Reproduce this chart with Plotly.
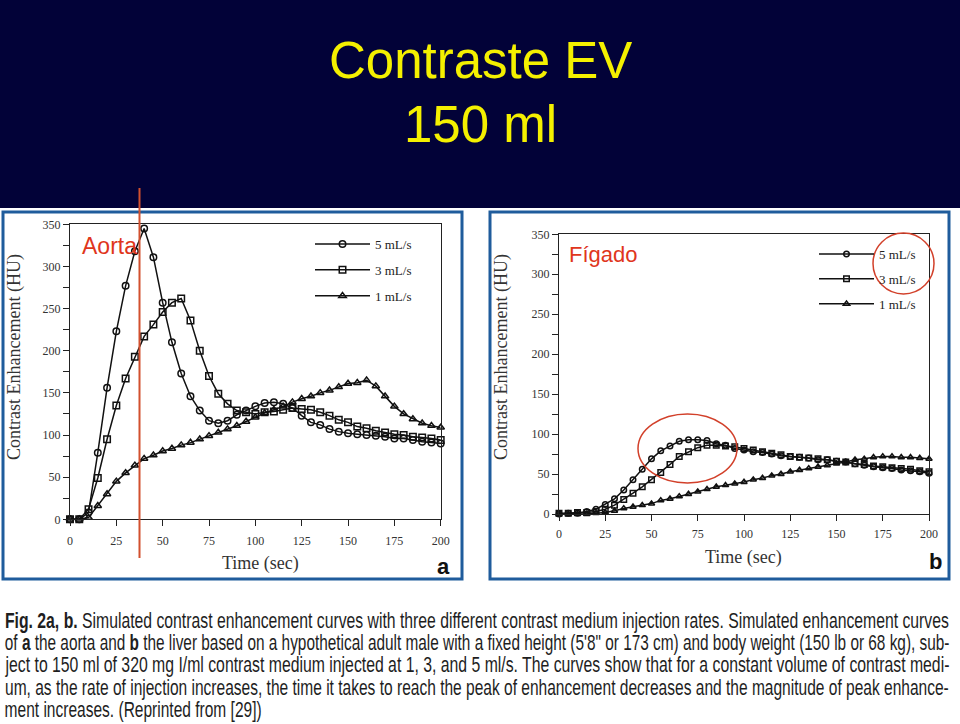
import plotly.graph_objects as go

W, H = 960, 724

# ---------------- data ----------------
time_s = list(range(0, 205, 5))

aorta_5 = [0, 0, 8, 79, 156, 223, 277, 318, 345, 311, 257, 210, 173, 146, 129, 117, 114, 117, 124, 129,
           134, 138, 139, 137, 132, 123, 115, 112, 107, 104, 102, 101, 100, 99, 98, 96, 96, 94, 92, 91, 90]
aorta_3 = [0, 0, 12, 49, 95, 135, 167, 193, 217, 231, 246, 257, 262, 236, 200, 170, 149, 137, 129, 127,
           125, 127, 128, 130, 132, 131, 130, 127, 123, 118, 115, 110, 108, 105, 103, 101, 100, 98, 97, 96, 94]
aorta_1 = [0, 0, 2, 16, 30, 45, 55, 64, 72, 76, 81, 84, 88, 91, 95, 99, 103, 107, 111, 116,
           121, 126, 130, 134, 139, 143, 146, 150, 153, 157, 161, 162, 165, 158, 146, 134, 125, 119, 114, 111, 109]

liver_5 = [0, 1, 1, 3, 6, 12, 19, 30, 43, 56, 69, 79, 85, 91, 93, 93, 92, 88, 86, 82,
           80, 78, 77, 75, 73, 72, 71, 70, 68, 68, 66, 65, 63, 61, 59, 58, 57, 55, 54, 53, 51]
liver_3 = [1, 1, 2, 2, 3, 6, 11, 18, 26, 34, 43, 52, 62, 72, 78, 83, 86, 86, 85, 84,
           82, 80, 78, 76, 74, 72, 71, 70, 69, 68, 66, 65, 63, 62, 60, 59, 58, 57, 56, 54, 53]
liver_1 = [0, 0, 0, 0, 1, 2, 4, 7, 9, 11, 13, 17, 19, 22, 25, 28, 31, 34, 36, 38,
           40, 43, 45, 48, 50, 53, 55, 57, 59, 61, 63, 65, 68, 69, 71, 72, 72, 71, 71, 70, 69]

series_names = ["5 mL/s", "3 mL/s", "1 mL/s"]
liver_names = ["5 mL/s", "3 mL/s", "1 mL/s"]
symbols = ["circle-open", "square-open", "triangle-up-open"]

x_ticks = [0, 25, 50, 75, 100, 125, 150, 175, 200]
y_ticks = [0, 50, 100, 150, 200, 250, 300, 350]

title_lines = ["Contraste EV", "150 ml"]
caption_lines = [
    "<b>Fig. 2a, b.</b> Simulated contrast enhancement curves with three different contrast medium injection rates. Simulated enhancement curves",
    "of <b>a</b> the aorta and <b>b</b> the liver based on a hypothetical adult male with a fixed height (5'8\" or 173 cm) and body weight (150 lb or 68 kg), sub-",
    "ject to 150 ml of 320 mg I/ml contrast medium injected at 1, 3, and 5 ml/s. The curves show that for a constant volume of contrast medi-",
    "um, as the rate of injection increases, the time it takes to reach the peak of enhancement decreases and the magnitude of peak enhance-",
    "ment increases. (Reprinted from [29])",
]

# ---------------- helpers ----------------
def px(x):
    return x / W

def py(y):
    return 1 - y / H

SERIF = "Liberation Serif, Times New Roman, serif"
SANS = "Liberation Sans, Arial, sans-serif"

fig = go.Figure()

for vals, name, sym in zip([aorta_5, aorta_3, aorta_1], series_names, symbols):
    fig.add_trace(go.Scatter(
        x=time_s, y=vals, name=name, mode="lines+markers",
        line=dict(color="#111", width=1.5),
        marker=dict(symbol=sym, size=6.5, color="#111", line=dict(width=1.5)),
        cliponaxis=False, xaxis="x", yaxis="y", legend="legend",
        legendgroup="a" + name,
    ))

for vals, name, sym in zip([liver_5, liver_3, liver_1], liver_names, symbols):
    fig.add_trace(go.Scatter(
        x=time_s, y=vals, name=name, mode="lines+markers",
        line=dict(color="#111", width=1.5),
        marker=dict(symbol=sym, size=5.5, color="#111", line=dict(width=1.5)),
        cliponaxis=False, xaxis="x2", yaxis="y2", legend="legend2",
        legendgroup="b" + name,
    ))

axis_common = dict(
    showline=True, linecolor="#222", linewidth=1, mirror=True,
    ticks="outside", ticklen=6, tickcolor="#222", tickwidth=1,
    showgrid=False, zeroline=False, automargin=False,
    tickfont=dict(family=SERIF, size=12, color="#333"),
)

fig.update_layout(
    width=W, height=H, autosize=False,
    margin=dict(l=0, r=0, t=0, b=0, pad=0, autoexpand=False),
    paper_bgcolor="white", plot_bgcolor="rgba(0,0,0,0)",
    xaxis=dict(domain=[px(70), px(440.7)], range=[0, 200], tickvals=x_ticks, anchor="y",
               ticklabelstandoff=4, **axis_common),
    yaxis=dict(domain=[py(519.3), py(224.3)], range=[0, 350], tickvals=y_ticks, anchor="x",
               minor=dict(dtick=25, ticks="outside", ticklen=6, tickcolor="#222"), **axis_common),
    xaxis2=dict(domain=[px(559), px(929)], range=[0, 200], tickvals=x_ticks, anchor="y2",
                ticklabelstandoff=3, **axis_common),
    yaxis2=dict(domain=[py(514), py(234.3)], range=[0, 350], tickvals=y_ticks, anchor="x2",
                minor=dict(dtick=25, ticks="outside", ticklen=6, tickcolor="#222"), **axis_common),
    legend=dict(x=px(310), y=py(229), xanchor="left", yanchor="top", itemwidth=55,
                bgcolor="rgba(0,0,0,0)", font=dict(family=SERIF, size=13, color="#222"),
                tracegroupgap=6),
    legend2=dict(x=px(814), y=py(239), xanchor="left", yanchor="top", itemwidth=55,
                 bgcolor="rgba(0,0,0,0)", font=dict(family=SERIF, size=13, color="#222"),
                 tracegroupgap=5),
    showlegend=True,
)

shapes = [
    # header band
    dict(type="rect", xref="paper", yref="paper", x0=0, x1=1, y0=py(208), y1=1,
         fillcolor="#020238", line=dict(width=0), layer="below"),
    # panel frames
    dict(type="rect", xref="paper", yref="paper", x0=px(3), x1=px(462), y0=py(579), y1=py(212),
         fillcolor="white", line=dict(color="#1f5c9c", width=3), layer="below"),
    dict(type="rect", xref="paper", yref="paper", x0=px(490), x1=px(949), y0=py(579), y1=py(212),
         fillcolor="white", line=dict(color="#1f5c9c", width=3), layer="below"),
    # red annotations
    dict(type="line", xref="paper", yref="paper", x0=px(139.5), x1=px(139.5), y0=py(188), y1=py(558),
         line=dict(color="#d2502e", width=2), layer="above"),
    dict(type="circle", xref="paper", yref="paper", x0=px(638), x1=px(737), y0=py(483), y1=py(414),
         line=dict(color="#d2402a", width=1.5), layer="above"),
    dict(type="circle", xref="paper", yref="paper", x0=px(873), x1=px(934), y0=py(294), y1=py(233),
         line=dict(color="#d2402a", width=1.5), layer="above"),
]
fig.update_layout(shapes=shapes)

ann = []
# title
ann.append(dict(text=title_lines[0], x=0.5, y=py(61), xref="paper", yref="paper", showarrow=False,
                xanchor="center", yanchor="middle", font=dict(family=SANS, size=51, color="#f4f000")))
ann.append(dict(text=title_lines[1], x=0.5, y=py(124), xref="paper", yref="paper", showarrow=False,
                xanchor="center", yanchor="middle", font=dict(family=SANS, size=51, color="#f4f000")))
# axis titles
for xc, yc in [(14, 357), (501, 357)]:
    ann.append(dict(text="Contrast Enhancement (HU)", x=px(xc), y=py(yc), xref="paper", yref="paper",
                    showarrow=False, textangle=-90, xanchor="center", yanchor="middle",
                    font=dict(family=SERIF, size=18, color="#333")))
for xc, yc in [(260, 563), (743, 557)]:
    ann.append(dict(text="Time (sec)", x=px(xc), y=py(yc), xref="paper", yref="paper",
                    showarrow=False, xanchor="center", yanchor="middle",
                    font=dict(family=SERIF, size=18, color="#333")))
# panel letters
ann.append(dict(text="<b>a</b>", x=px(443), y=py(566), xref="paper", yref="paper", showarrow=False,
                xanchor="center", yanchor="middle", font=dict(family=SANS, size=22, color="#111")))
ann.append(dict(text="<b>b</b>", x=px(935), y=py(561), xref="paper", yref="paper", showarrow=False,
                xanchor="center", yanchor="middle", font=dict(family=SANS, size=22, color="#111")))
# red labels
ann.append(dict(text="Aorta", x=px(80), y=py(246), xref="paper", yref="paper", showarrow=False,
                xanchor="left", yanchor="middle", font=dict(family=SANS, size=23, color="#e0361c")))
ann.append(dict(text="Fígado", x=px(567), y=py(254), xref="paper", yref="paper", showarrow=False,
                xanchor="left", yanchor="middle", font=dict(family=SANS, size=22, color="#e0361c")))
# caption
cap_start = len(ann)
cap_centers = [620, 642, 664, 687, 709]
for line, yc in zip(caption_lines, cap_centers):
    ann.append(dict(text=line, x=px(3), y=py(yc), xref="paper", yref="paper", showarrow=False,
                    xanchor="left", yanchor="middle", font=dict(family=SANS, size=22, color="#1e1e1e")))

fig.update_layout(annotations=ann)

# caption lines are set in a condensed face in the reference: compress them horizontally
cap_widths = [947, 947, 947, 947, 259]
post_js = """
document.documentElement.style.margin = '0';
document.documentElement.style.padding = '0';
document.documentElement.style.overflow = 'hidden';
document.body.style.margin = '0';
document.body.style.padding = '0';
document.body.style.overflow = 'hidden';
var gd = document.getElementById('{plot_id}');
var start = %d;
var targets = %s;
for (var i = 0; i < targets.length; i++) {
  var g = gd.querySelector('g.annotation[data-index="' + (start + i) + '"]');
  if (!g) continue;
  var bb = g.getBBox();
  if (!bb.width) continue;
  var s = targets[i] / bb.width;
  var x0 = bb.x;
  g.setAttribute('transform', 'translate(' + x0 + ',0) scale(' + s + ',1) translate(' + (-x0) + ',0)');
}
""" % (cap_start, str(cap_widths))

fig.write_html("out.html", post_script=post_js, config={"displayModeBar": False})
